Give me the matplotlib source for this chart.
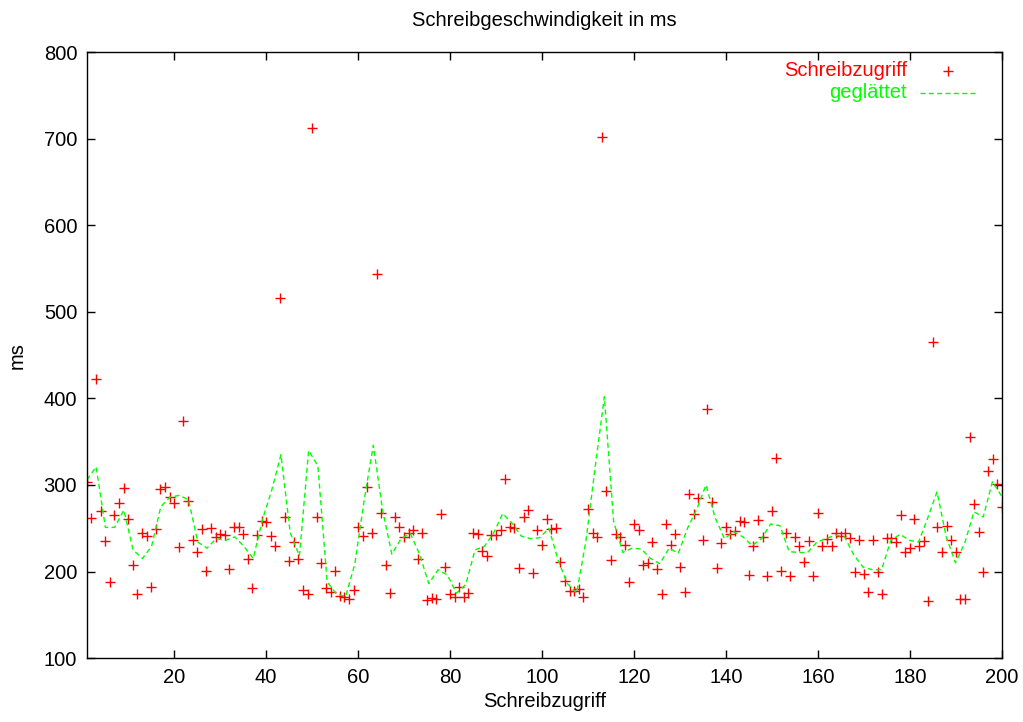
import numpy as np
import matplotlib
matplotlib.use("Agg")
import matplotlib.pyplot as plt

# Scatter data: Schreibzugriff (index 1..200) -> ms
access_idx = list(range(1, 201))
write_ms = [
    304, 262, 423, 270, 235, 188, 265, 279, 297, 261,
    207, 174, 244, 241, 182, 249, 295, 298, 286, 279,
    228, 374, 282, 236, 222, 249, 201, 250, 240, 243,
    242, 203, 251, 251, 243, 215, 181, 242, 258, 257,
    241, 230, 516, 263, 212, 234, 214, 179, 174, 713,
    263, 210, 181, 176, 201, 172, 170, 168, 179, 251,
    241, 298, 245, 544, 268, 208, 175, 263, 251, 240,
    245, 248, 214, 244, 167, 169, 168, 267, 205, 174,
    170, 182, 170, 175, 244, 243, 224, 218, 242, 242,
    248, 307, 251, 250, 204, 263, 271, 198, 248, 231,
    261, 249, 250, 211, 189, 178, 178, 180, 170, 272,
    244, 240, 702, 293, 213, 243, 240, 231, 188, 255,
    248, 207, 210, 234, 203, 174, 255, 231, 243, 205,
    176, 290, 266, 285, 236, 388, 280, 204, 233, 251,
    243, 247, 258, 257, 196, 230, 260, 240, 195, 270,
    331, 201, 245, 195, 240, 229, 211, 235, 195, 268,
    230, 237, 230, 245, 241, 245, 239, 199, 236, 197,
    176, 236, 199, 174, 239, 239, 234, 265, 222, 227,
    261, 229, 235, 166, 465, 251, 222, 253, 236, 222,
    168, 168, 355, 278, 246, 199, 316, 330, 301, 275,
]

# Smoothed curve ("geglättet"), 100 samples
smooth_ms = [
    306, 321, 251, 251, 271, 225, 215, 229, 275, 286,
    288, 283, 234, 227, 238, 236, 240, 229, 215, 260,
    294, 335, 245, 218, 340, 322, 188, 174, 171, 209,
    282, 346, 271, 220, 238, 244, 220, 186, 202, 196,
    175, 185, 225, 229, 244, 267, 256, 241, 238, 239,
    250, 213, 186, 175, 235, 320, 402, 258, 222, 227,
    226, 215, 209, 227, 221, 250, 272, 300, 262, 238,
    246, 240, 230, 238, 255, 253, 223, 222, 222, 234,
    238, 242, 240, 219, 205, 202, 202, 236, 243, 236,
    234, 262, 292, 240, 210, 233, 269, 263, 304, 287,
]
smooth_x = np.linspace(1, 200, len(smooth_ms))

x_ticks = [20, 40, 60, 80, 100, 120, 140, 160, 180, 200]
y_ticks = [100, 200, 300, 400, 500, 600, 700, 800]

plt.rcParams['font.family'] = ['Liberation Sans', 'DejaVu Sans']
FS = 14.5

fig = plt.figure(figsize=(10.23, 7.22), dpi=100)
ax = fig.add_axes([86.9 / 1023, 1 - 658 / 722, (1001.7 - 86.9) / 1023, (658 - 52.5) / 722])

ax.plot(access_idx, write_ms, linestyle='none', marker='+', color='#ff0000',
        markersize=7.5, markeredgewidth=1.0)
ax.plot(smooth_x, smooth_ms, color='#00ff00', linewidth=1.0, dashes=(3.6, 2.4))

ax.set_xlim(1, 200)
ax.set_ylim(100, 800)
ax.set_xticks(x_ticks)
ax.set_yticks(y_ticks)
ax.tick_params(direction='in', length=6, width=1, top=True, right=True,
               labelsize=FS, pad=7, colors='black')
for s in ax.spines.values():
    s.set_linewidth(1.0)

ax.set_xlabel('Schreibzugriff', fontsize=FS, labelpad=4)
ax.set_ylabel('ms', fontsize=FS, labelpad=12)


def px2fig(px, py):
    return px / 1023, 1 - py / 722


tx, ty = px2fig(544, 20)
fig.text(tx, ty, 'Schreibgeschwindigkeit in ms', ha='center', va='center', fontsize=FS)

# gnuplot-style key (text right-aligned, sample to the right)
tx, ty = px2fig(907, 71)
fig.text(tx, ty, 'Schreibzugriff', color='#ff0000', ha='right', va='center', fontsize=FS)
mx, my = px2fig(948, 71)
fig.add_artist(matplotlib.lines.Line2D([mx], [my], marker='+', color='#ff0000',
                                        markersize=7.5, markeredgewidth=1.0,
                                        transform=fig.transFigure))
tx, ty = px2fig(907, 93)
fig.text(tx, ty, 'geglättet', color='#00ff00', ha='right', va='center', fontsize=FS)
x0, y0 = px2fig(920, 93)
x1, _ = px2fig(978, 93)
fig.add_artist(matplotlib.lines.Line2D([x0, x1], [y0, y0], color='#00ff00', linewidth=1.0,
                                        dashes=(3.6, 2.4), transform=fig.transFigure))

fig.savefig('out.png', dpi=100)
